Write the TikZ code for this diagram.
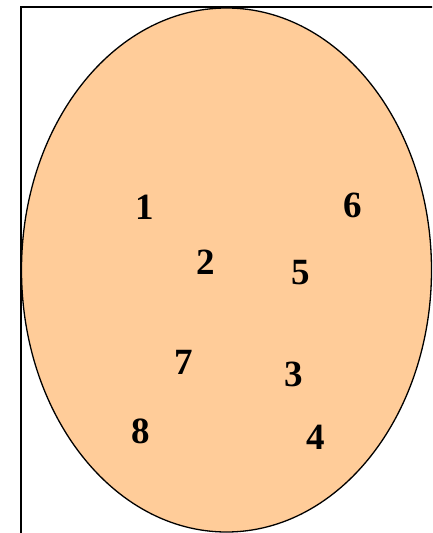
\documentclass[tikz,border=0pt]{standalone}
\usepackage{fontspec}
\setmainfont{Liberation Serif}
\begin{document}
\begin{tikzpicture}[x=1pt,y=-1pt,
  num/.style={font=\bfseries\fontsize{37}{37}\selectfont, inner sep=0pt, anchor=center}]
\useasboundingbox (0,0) rectangle (432,533);
\clip (0,0) rectangle (432,533);
\draw[line width=1.8pt] (21,7) rectangle (445,545);
\draw[line width=1.3pt, fill={rgb,255:red,255;green,204;blue,153}] (226.5,270) ellipse [x radius=205, y radius=262];
\node[num] (n1) at (144.5,207.5) {1};
\node[num] (n6) at (353,205.5) {6};
\node[num] (n2) at (206,262.5) {2};
\node[num] (n5) at (301,273) {5};
\node[num] (n7) at (184,362) {7};
\node[num] (n3) at (294,374) {3};
\node[num] (n8) at (140.5,431.5) {8};
\node[num] (n4) at (316,437) {4};
\end{tikzpicture}
\end{document}
